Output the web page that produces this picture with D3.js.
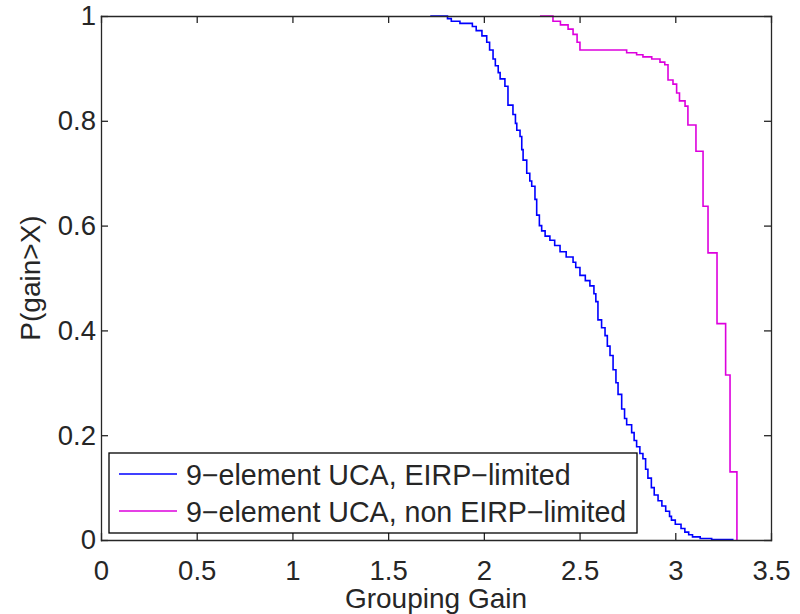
<!DOCTYPE html>
<html><head><meta charset="utf-8">
<script src="https://cdn.jsdelivr.net/npm/d3@7"></script>
<style>body{margin:0;background:#fff}svg{display:block}text{font-family:"Liberation Sans",Arial,sans-serif;fill:#262626}</style>
</head><body>
<svg id="c" width="800" height="614"></svg>
<script>
const xTicks = [0, 0.5, 1, 1.5, 2, 2.5, 3, 3.5];
const yTicks = [0, 0.2, 0.4, 0.6, 0.8, 1];
const seriesNames = ["9\u2212element UCA, EIRP\u2212limited", "9\u2212element UCA, non EIRP\u2212limited"];
// [x where the step occurs, level after the step]
const eirpLimited = [
[1.72,1.0],[1.81,0.995],[1.83,0.990],[1.875,0.986],[1.94,0.980],[1.96,0.972],[1.99,0.962],[2.015,0.950],
[2.03,0.935],[2.048,0.918],[2.06,0.905],[2.075,0.892],[2.085,0.880],[2.11,0.866],[2.126,0.830],[2.152,0.812],
[2.165,0.795],[2.172,0.782],[2.189,0.770],[2.198,0.745],[2.205,0.725],[2.224,0.700],[2.24,0.685],[2.25,0.675],
[2.267,0.650],[2.276,0.620],[2.29,0.600],[2.302,0.590],[2.32,0.580],[2.345,0.572],[2.37,0.562],[2.398,0.550],
[2.43,0.540],[2.466,0.530],[2.48,0.520],[2.502,0.505],[2.53,0.495],[2.554,0.485],[2.575,0.470],[2.585,0.455],
[2.596,0.420],[2.615,0.405],[2.633,0.390],[2.645,0.370],[2.659,0.352],[2.675,0.325],[2.69,0.300],[2.701,0.278],
[2.72,0.250],[2.735,0.232],[2.746,0.220],[2.772,0.205],[2.785,0.190],[2.798,0.178],[2.815,0.165],[2.831,0.155],
[2.845,0.135],[2.857,0.118],[2.875,0.100],[2.89,0.086],[2.91,0.075],[2.93,0.065],[2.95,0.055],[2.97,0.045],
[2.98,0.038],[3.00,0.030],[3.03,0.022],[3.05,0.015],[3.07,0.010],[3.09,0.006],[3.13,0.003],[3.19,0.001],[3.30,0]
];
const nonEirpLimited = [
[2.293,1.0],[2.361,0.990],[2.40,0.983],[2.44,0.975],[2.466,0.965],[2.487,0.950],[2.502,0.935],[2.746,0.930],
[2.798,0.926],[2.831,0.922],[2.877,0.918],[2.920,0.912],[2.945,0.907],[2.962,0.878],[2.988,0.870],[3.007,0.853],
[3.022,0.838],[3.051,0.828],[3.066,0.792],[3.108,0.742],[3.145,0.637],[3.171,0.548],[3.218,0.413],[3.263,0.315],
[3.286,0.130],[3.322,0]
];
const colors = ["#0000ff", "#dd00dd"];

const svg = d3.select("#c");
const m = {l:101, t:16, r:771, b:540};
const x = d3.scaleLinear().domain([0,3.5]).range([m.l, m.r]);
const y = d3.scaleLinear().domain([0,1]).range([m.b, m.t]);
const tk = 7, axCol = "#262626";

const g = svg.append("g");
const line = d3.line().x(d=>x(d[0])).y(d=>y(d[1])).curve(d3.curveStepAfter);
[eirpLimited, nonEirpLimited].forEach((s,i)=>{
  g.append("path").attr("d", line(s)).attr("fill","none").attr("stroke",colors[i]).attr("stroke-width",1.6);
});

const fmt = d=>String(d);
const xb = d3.axisBottom(x).tickValues(xTicks).tickSizeInner(-tk).tickSizeOuter(0).tickPadding(20).tickFormat(fmt);
const xt = d3.axisTop(x).tickValues(xTicks).tickSizeInner(-tk).tickSizeOuter(0).tickFormat("");
const yl = d3.axisLeft(y).tickValues(yTicks).tickSizeInner(-tk).tickSizeOuter(0).tickPadding(5).tickFormat(fmt);
const yr = d3.axisRight(y).tickValues(yTicks).tickSizeInner(-tk).tickSizeOuter(0).tickFormat("");
function style(sel){
  sel.selectAll("path").attr("stroke",axCol).attr("stroke-width",1.3);
  sel.selectAll("line").attr("stroke",axCol).attr("stroke-width",1.3);
  sel.selectAll("text").style("font-size","27.5px").attr("fill","#262626");
}
svg.append("g").attr("transform",`translate(0,${m.b})`).call(xb).call(style);
svg.append("g").attr("transform",`translate(0,${m.t})`).call(xt).call(style);
svg.append("g").attr("transform",`translate(${m.l},0)`).call(yl).call(style);
svg.append("g").attr("transform",`translate(${m.r},0)`).call(yr).call(style);
svg.selectAll(".tick text").attr("font-family",null);
svg.selectAll(".domain").attr("stroke-linecap","square");

svg.append("text").attr("x",(m.l+m.r)/2).attr("y",608).attr("text-anchor","middle").style("font-size","28px").text("Grouping Gain");
svg.append("text").attr("transform",`translate(40,${(m.t+m.b)/2}) rotate(-90)`).attr("text-anchor","middle").style("font-size","28px").text("P(gain>X)");

const lg = svg.append("g");
lg.append("rect").attr("x",109).attr("y",453).attr("width",528).attr("height",80).attr("fill","#fff").attr("stroke","#000").attr("stroke-width",1.3);
seriesNames.forEach((n,i)=>{
  const yy = 474 + i*37;
  lg.append("line").attr("x1",119).attr("x2",177).attr("y1",yy).attr("y2",yy).attr("stroke",colors[i]).attr("stroke-width",1.6);
  lg.append("text").attr("x",186).attr("y",yy+11).style("font-size","28.6px").text(n);
});
</script>
</body></html>
